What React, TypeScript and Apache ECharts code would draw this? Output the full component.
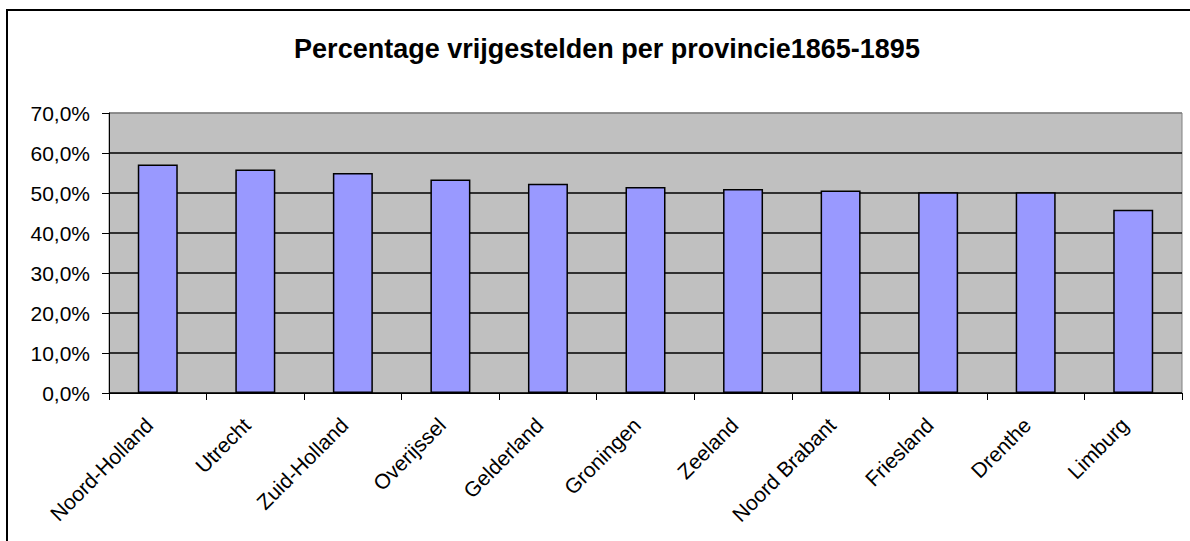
import React, { useEffect, useRef } from "react";
import * as echarts from "echarts";

const categories = [
  "Noord-Holland",
  "Utrecht",
  "Zuid-Holland",
  "Overijssel",
  "Gelderland",
  "Groningen",
  "Zeeland",
  "Noord Brabant",
  "Friesland",
  "Drenthe",
  "Limburg",
];

const percentages = [57.1, 55.9, 55.0, 53.4, 52.3, 51.5, 51.0, 50.6, 50.2, 50.2, 45.8];

const titleText = "Percentage vrijgestelden per provincie1865-1895";

export default function App() {
  const ref = useRef<HTMLDivElement>(null);

  useEffect(() => {
    if (!ref.current) return;
    const chart = echarts.init(ref.current, undefined, { renderer: "svg" });
    const font = "Liberation Sans, Arial, sans-serif";
    chart.setOption({
      animation: false,
      backgroundColor: "#ffffff",
      title: {
        text: titleText,
        left: 602,
        textAlign: "center",
        top: 30,
        textStyle: {
          fontFamily: font,
          fontWeight: "bold",
          fontSize: 27,
          color: "#000",
        },
      },
      graphic: [
        {
          type: "rect",
          shape: { x: 7, y: 10, width: 1300, height: 700 },
          style: { fill: "none", stroke: "#000", lineWidth: 2 },
          silent: true,
          z: 100,
        },
      ],
      grid: {
        left: 109,
        right: 8,
        top: 113,
        bottom: 148,
        show: true,
        backgroundColor: "#C0C0C0",
        borderColor: "#808080",
        borderWidth: 1,
      },
      xAxis: {
        type: "category",
        data: categories,
        boundaryGap: true,
        axisLine: { show: true, lineStyle: { color: "#000", width: 1 } },
        axisTick: { show: true, inside: false, length: 7, alignWithLabel: false, lineStyle: { color: "#000" } },
        axisLabel: {
          rotate: 45,
          interval: 0,
          margin: 20,
          padding: [0, 12, 0, 0],
          fontFamily: font,
          fontSize: 21,
          color: "#000",
        },
        splitLine: { show: false },
      },
      yAxis: {
        type: "value",
        min: 0,
        max: 70,
        interval: 10,
        axisLine: { show: true, lineStyle: { color: "#000", width: 1 } },
        axisTick: { show: true, inside: false, length: 7, lineStyle: { color: "#000" } },
        axisLabel: {
          margin: 19,
          fontFamily: font,
          fontSize: 21,
          color: "#000",
          formatter: (v: number) => `${v.toFixed(1).replace(".", ",")}%`,
        },
        splitLine: {
          show: true,
          lineStyle: {
            color: ["#000", "#000", "#000", "#000", "#000", "#000", "#000", "#808080"],
            width: 1.5,
          },
        },
      },
      series: [
        {
          type: "bar",
          data: percentages,
          barCategoryGap: "59%",
          itemStyle: {
            color: "#9999FF",
            borderColor: "#000",
            borderWidth: 1.5,
          },
        },
      ],
    });
    return () => chart.dispose();
  }, []);

  return (
    <div
      ref={ref}
      style={{ position: "fixed", left: 0, top: 0, width: 1190, height: 541 }}
    />
  );
}
